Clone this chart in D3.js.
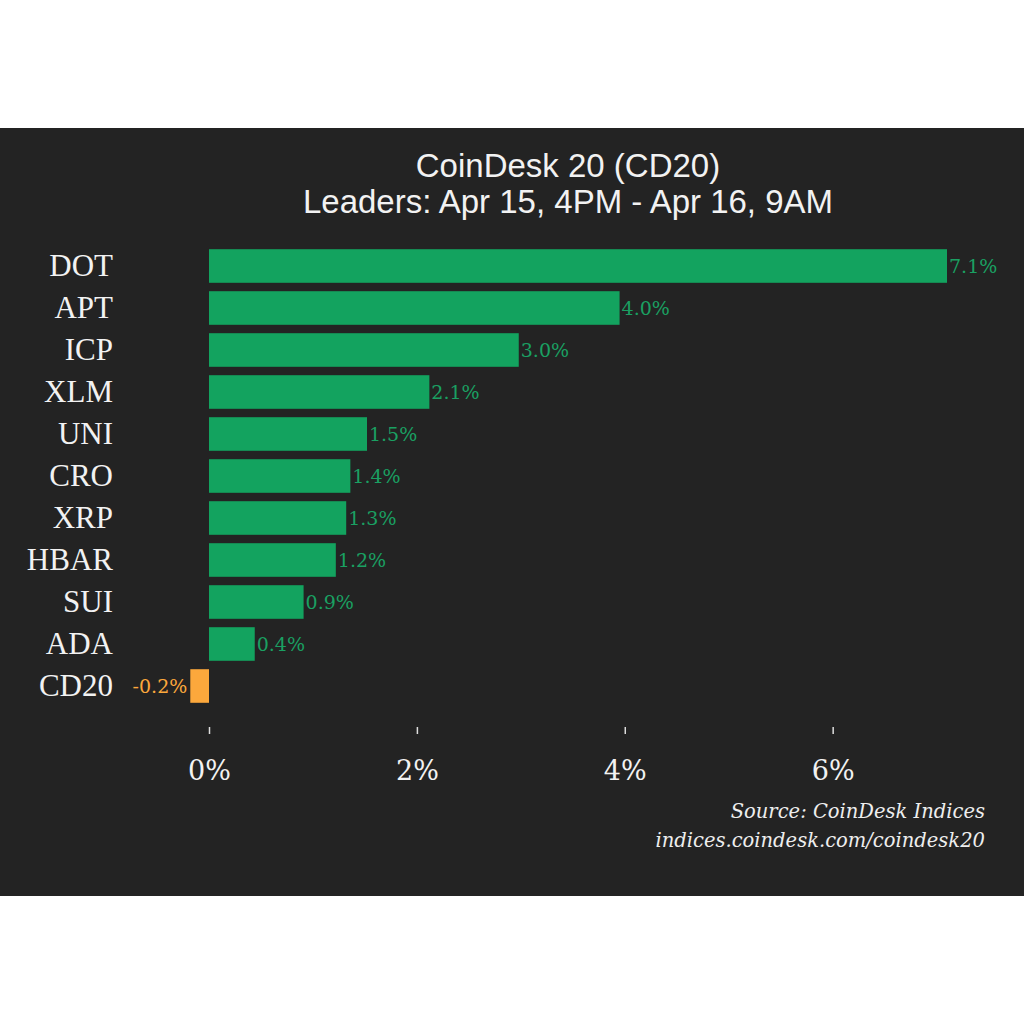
<!DOCTYPE html>
<html><head><meta charset="utf-8">
<script src="https://cdn.jsdelivr.net/npm/d3@7"></script>
<style>html,body{margin:0;padding:0;background:#fff;}</style>
</head><body>
<script>
const categories = ["DOT","APT","ICP","XLM","UNI","CRO","XRP","HBAR","SUI","ADA","CD20"];
const values = [7.1,3.95,2.98,2.12,1.52,1.36,1.32,1.22,0.91,0.44,-0.18];
const valueLabels = ["7.1%","4.0%","3.0%","2.1%","1.5%","1.4%","1.3%","1.2%","0.9%","0.4%","-0.2%"];
const tickValues = [0,2,4,6];
const tickLabels = ["0%","2%","4%","6%"];
const titleLines = ["CoinDesk 20 (CD20)","Leaders: Apr 15, 4PM - Apr 16, 9AM"];
const sourceLines = ["Source: CoinDesk Indices","indices.coindesk.com/coindesk20"];

const W=1024,H=1024;
const svg=d3.select("body").append("svg").attr("width",W).attr("height",H);
svg.append("rect").attr("x",0).attr("y",128).attr("width",W).attr("height",768).attr("fill","#232323");

const x=d3.scaleLinear().domain([0,7.1]).range([209,947]);
const y=d3.scaleBand().domain(categories).range([245,707]).paddingInner(0.2).paddingOuter(0.1);
const serif="'DejaVu Serif', Georgia, serif";
const green="#13a35f", orange="#fca83c";

svg.selectAll("text.title").data(titleLines).enter().append("text")
  .attr("x",568).attr("y",(d,i)=>177+i*36).attr("text-anchor","middle")
  .attr("font-family","'Liberation Sans', Arial, sans-serif").attr("font-size",33)
  .attr("fill","#f2f2f2").text(d=>d);

svg.selectAll("rect.bar").data(values).enter().append("rect")
  .attr("x",d=>x(Math.min(0,d))).attr("width",d=>Math.abs(x(d)-x(0)))
  .attr("y",(d,i)=>y(categories[i])).attr("height",y.bandwidth())
  .attr("fill",d=>d<0?orange:green);

svg.selectAll("text.val").data(values).enter().append("text")
  .attr("x",d=>d<0?x(d)-3:x(d)+2)
  .attr("y",(d,i)=>y(categories[i])+y.bandwidth()/2+7)
  .attr("text-anchor",d=>d<0?"end":"start")
  .attr("font-family",serif).attr("font-size",19)
  .attr("fill",d=>d<0?orange:"#1aa062").text((d,i)=>valueLabels[i]);

svg.selectAll("text.cat").data(categories).enter().append("text")
  .attr("x",113).attr("y",d=>y(d)+y.bandwidth()/2+10)
  .attr("text-anchor","end").attr("font-family","'Liberation Serif', 'Times New Roman', serif")
  .attr("font-size",31).attr("fill","#f2f2f2").text(d=>d);

const axis=d3.axisBottom(x).tickValues(tickValues).tickFormat((d,i)=>tickLabels[i]).tickSize(7).tickPadding(27);
const g=svg.append("g").attr("transform","translate(0,727)").call(axis);
g.select(".domain").remove();
g.selectAll(".tick line").attr("stroke","#dddddd").attr("stroke-width",1.5);
g.selectAll(".tick text").attr("font-family",serif).attr("font-size",27).attr("fill","#f2f2f2");

svg.selectAll("text.src").data(sourceLines).enter().append("text")
  .attr("x",985).attr("y",(d,i)=>818+i*29).attr("text-anchor","end")
  .attr("font-family",serif).attr("font-style","italic").attr("font-size",19.5)
  .attr("fill","#eeeeee").text(d=>d);
</script>
</body></html>
